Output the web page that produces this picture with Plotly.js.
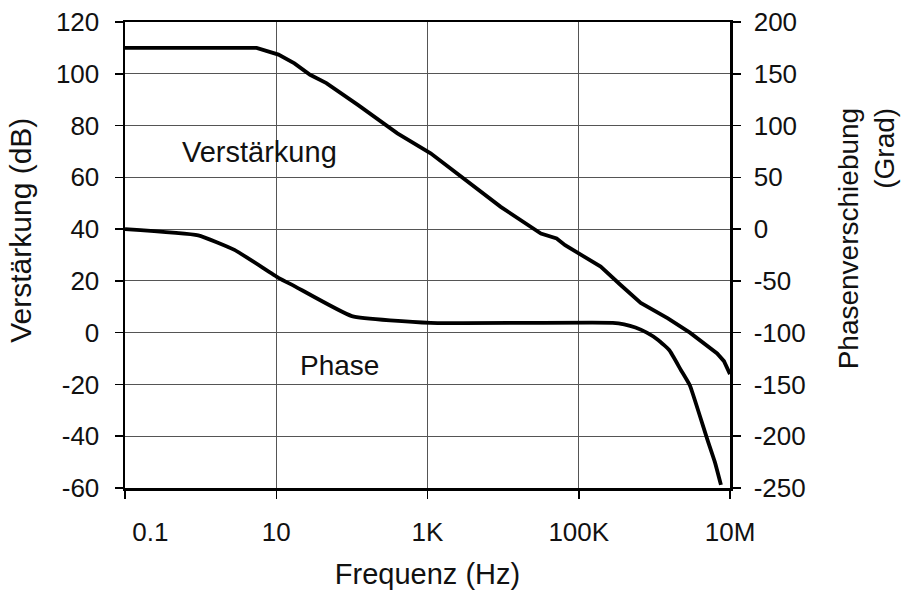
<!DOCTYPE html>
<html>
<head>
<meta charset="utf-8">
<script src="https://cdn.plot.ly/plotly-3.0.1.min.js"></script>
<style>html,body{margin:0;padding:0;background:#fff;}#chart{width:906px;height:596px;}</style>
</head>
<body>
<div id="chart"></div>
<script>
// Gain (left axis, dB)
var gainFreq = [0.1, 5.5, 10.7, 17.4, 28, 46, 120, 400, 1100, 3160, 9300, 31600, 51000, 66000, 107000, 195000, 355000, 660000, 1510000, 2950000, 6760000, 8320000, 10000000];
var gainDb   = [110, 110, 107.4, 104, 99.6, 96.4, 88, 77, 69.3, 59, 48.6, 38.3, 36.4, 33.8, 30, 25.5, 18.5, 11.5, 5.5, 0, -8, -11, -16];

// Phase (right axis, degrees)
var phaseFreq = [0.1, 0.93, 2.8, 10.7, 17.4, 100, 1100, 282000, 398000, 562000, 794000, 1120000, 1580000, 2240000, 2950000, 3980000, 5010000, 6310000, 7590000];
var phaseDeg  = [0, -6, -20, -47, -55, -84, -90.5, -90.5, -92, -95, -100, -107, -117, -136, -151, -180, -203, -225, -247];

// Axis ticks
var xTickVals = [0.1, 10, 1000, 100000, 10000000];
var xTickText = ['\u00a0\u00a0\u00a0\u00a0\u00a0\u00a0\u00a00.1', '10', '1K', '100K', '10M'];
var yTickVals = [-60, -40, -20, 0, 20, 40, 60, 80, 100, 120];
var yTickText = ['-60', '-40', '-20', '0', '20', '40', '60', '80', '100', '120'];
var y2TickVals = [-250, -200, -150, -100, -50, 0, 50, 100, 150, 200];
var y2TickText = ['-250', '-200', '-150', '-100', '-50', '0', '50', '100', '150', '200'];

var labels = {gain: 'Verstärkung', phase: 'Phase'};
var titles = {x: 'Frequenz (Hz)', y: 'Verstärkung (dB)', y2: 'Phasenverschiebung<br>(Grad)'};

var FONT = 'Liberation Sans, Arial, Helvetica, sans-serif';

var traces = [
  {x: gainFreq, y: gainDb, type: 'scatter', mode: 'lines', name: labels.gain,
   line: {color: '#000', width: 3.8}, yaxis: 'y'},
  {x: phaseFreq, y: phaseDeg, type: 'scatter', mode: 'lines', name: labels.phase,
   line: {color: '#000', width: 3.8, shape: 'spline', smoothing: 0.4}, yaxis: 'y2'}
];

var layout = {
  width: 906, height: 596,
  margin: {l: 125, r: 176, t: 22, b: 108},
  paper_bgcolor: '#fff', plot_bgcolor: '#fff',
  showlegend: false,
  font: {family: FONT, size: 26, color: '#111'},
  xaxis: {
    type: 'log', range: [-1, 7],
    tickvals: xTickVals, ticktext: xTickText,
    showgrid: true, gridcolor: '#555', gridwidth: 1,
    showline: true, linecolor: '#000', linewidth: 2.5, mirror: true,
    ticks: 'outside', ticklen: 8, tickcolor: '#000', tickwidth: 1.5,
    ticklabelstandoff: 11,
    zeroline: false,
    title: {text: titles.x, font: {size: 29, family: FONT, color: '#111'}, standoff: 18}
  },
  yaxis: {
    range: [-60, 120], tickvals: yTickVals, ticktext: yTickText,
    showgrid: true, gridcolor: '#555', gridwidth: 1.2,
    showline: true, linecolor: '#000', linewidth: 2.5,
    ticks: 'outside', ticklen: 8, tickcolor: '#000', tickwidth: 1.5,
    ticklabelstandoff: 10,
    zeroline: false
  },
  yaxis2: {
    overlaying: 'y', side: 'right',
    range: [-250, 200], tickvals: y2TickVals, ticktext: y2TickText,
    showgrid: false,
    showline: true, linecolor: '#000', linewidth: 2.5,
    ticks: 'outside', ticklen: 8, tickcolor: '#000', tickwidth: 1.5,
    ticklabelstandoff: 8,
    zeroline: false
  },
  annotations: [
    {text: labels.gain, xref: 'paper', yref: 'paper', x: 0.0909, y: 0.721, xanchor: 'left', yanchor: 'middle',
     showarrow: false, font: {size: 29, family: FONT, color: '#111'}},
    {text: labels.phase, xref: 'paper', yref: 'paper', x: 0.286, y: 0.262, xanchor: 'left', yanchor: 'middle',
     showarrow: false, font: {size: 28, family: FONT, color: '#111'}},
    {text: titles.y, xref: 'paper', yref: 'paper', x: -0.172, y: 0.554, xanchor: 'center', yanchor: 'middle',
     textangle: -90, showarrow: false, font: {size: 30, family: FONT, color: '#111'}},
    {text: titles.y2, xref: 'paper', yref: 'paper', x: 1.225, y: 0.536, xanchor: 'center', yanchor: 'middle',
     textangle: -90, align: 'right', showarrow: false, font: {size: 28, family: FONT, color: '#111'}}
  ]
};

Plotly.newPlot('chart', traces, layout, {displayModeBar: false, staticPlot: true});
</script>
</body>
</html>
